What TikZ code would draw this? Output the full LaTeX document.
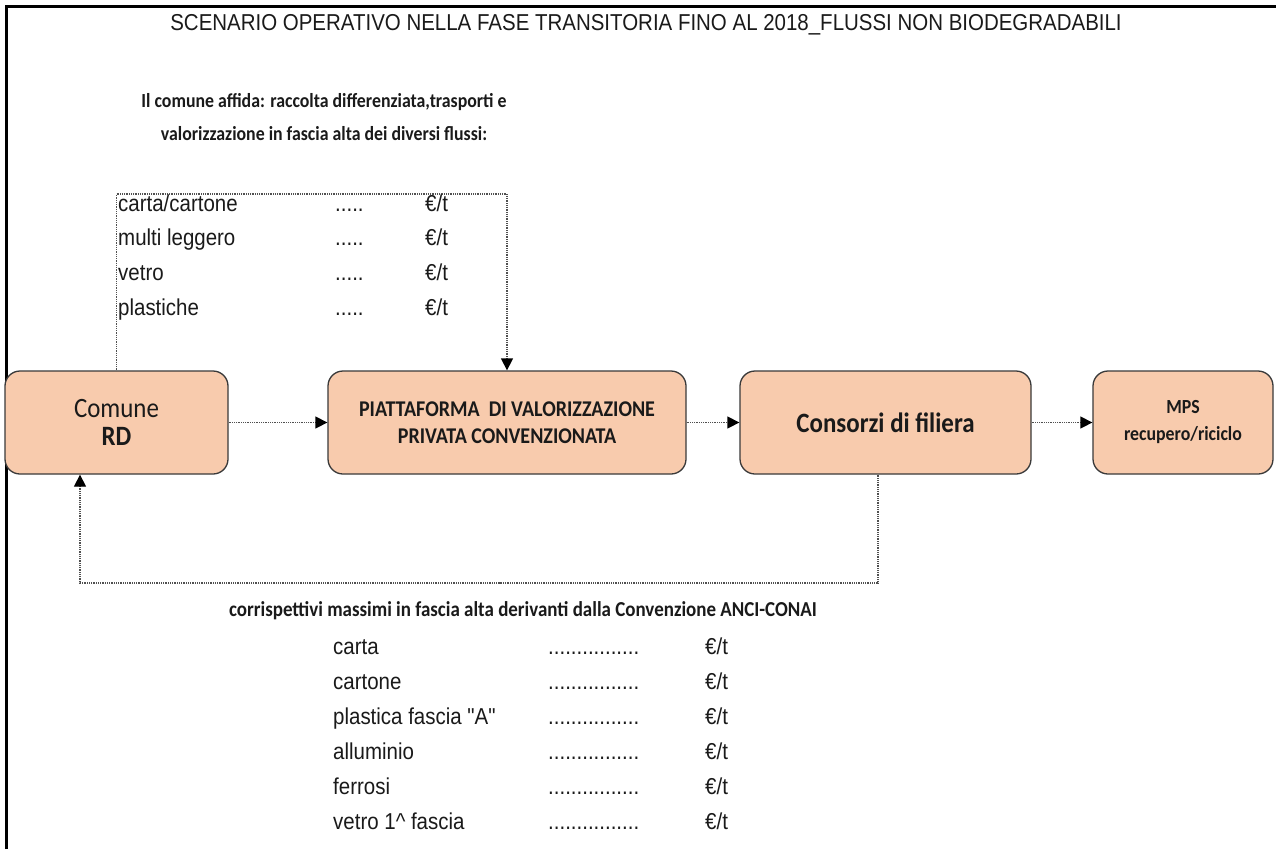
\documentclass[tikz,border=0pt]{standalone}
\usepackage{fontspec}
\usetikzlibrary{arrows.meta}
\newfontfamily\arialn[FakeStretch=0.89]{Liberation Sans}
\newfontfamily\calib[FakeStretch=0.89]{Carlito}
\definecolor{peach}{HTML}{F8CBAD}
\definecolor{edge}{HTML}{3A3A3A}
\definecolor{ink}{HTML}{1A1A1A}
\definecolor{flow}{HTML}{505050}
\tikzset{
  stagebox/.style={draw=edge, line width=1.3pt, fill=peach, rounded corners=15pt,
    minimum height=103pt, align=center, text=ink, inner sep=0pt},
  flowline/.style={draw=flow, line width=1.3pt, dash pattern=on 1pt off 0.8pt},
  flowarrow/.style={flowline, -{Triangle[length=12pt,width=12pt,fill=black,color=black]}},
  itemtxt/.style={font=\arialn\fontsize{23}{23}\selectfont, text=ink, inner sep=0pt},
  headtxt/.style={font=\calib\bfseries\fontsize{20}{33}\selectfont, text=ink, inner sep=0pt, align=center},
}
\begin{document}
\begin{tikzpicture}[x=1pt,y=-1pt]
\useasboundingbox (0,0) rectangle (1276,849);
\fill[white] (0,0) rectangle (1276,849);

% outer frame (top and left edges)
\draw[line width=3pt, black] (6,849) -- (6,6.7) -- (1276,6.7);

% title
\node[font=\arialn\fontsize{23}{23}\selectfont, text=ink, anchor=base, inner sep=0pt] (title) at (646,30)
  {SCENARIO OPERATIVO NELLA FASE TRANSITORIA FINO AL 2018\_FLUSSI NON BIODEGRADABILI};

% heading of the upper list
\node[headtxt, anchor=base] (sub1) at (324,107) {Il comune affida: raccolta differenziata,trasporti e};
\node[headtxt, anchor=base] (sub2) at (324,140) {valorizzazione in fascia alta dei diversi flussi:};

% process stages
\node[stagebox, minimum width=223pt, font=\calib\fontsize{28}{28}\selectfont] (com) at (116.5,422.5)
  {Comune\\\textbf{RD}};
\node[stagebox, minimum width=358pt, font=\calib\bfseries\fontsize{22.5}{27}\selectfont] (piatt) at (507,422.5)
  {PIATTAFORMA\ \ DI VALORIZZAZIONE\\PRIVATA CONVENZIONATA};
\node[stagebox, minimum width=291pt, font=\calib\bfseries\fontsize{28}{28}\selectfont] (cons) at (885.5,422.5)
  {Consorzi di filiera};
\node[stagebox, minimum width=180pt, font=\calib\bfseries\fontsize{20}{27}\selectfont] (mps) at (1183,422.5)
  {MPS\\recupero/riciclo};

% main flow
\draw[flowarrow] (com) -- (piatt);
\draw[flowarrow] (piatt) -- (cons);
\draw[flowarrow] (cons) -- (mps);

% upper loop: Comune -> Piattaforma
\coordinate (ucorner) at (300,194);
\draw[flowarrow] (com.north) |- (ucorner) -| (piatt.north);

% lower loop: Consorzi -> Comune
\coordinate (lcorner) at (500,583);
\draw[flowarrow] ([xshift=-7.5pt]cons.south) |- (lcorner) -| ([xshift=-36.5pt]com.south);

% upper list of fees
\foreach \name/\lbl/\yy in {u1/carta\slash cartone/211, u2/multi leggero/245.5, u3/vetro/280, u4/plastiche/315}{
  \node[itemtxt, anchor=base west] (\name) at (118,\yy) {\lbl};
  \node[itemtxt, anchor=base west] (\name d) at (335,\yy) {.....};
  \node[itemtxt, anchor=base west] (\name e) at (425,\yy) {€/t};
}

% lower heading
\node[headtxt, anchor=base, font=\calib\bfseries\fontsize{21.3}{33}\selectfont] (low) at (523,616)
  {corrispettivi massimi in fascia alta derivanti dalla Convenzione ANCI-CONAI};

% lower list of fees
\foreach \name/\lbl/\yy in {b1/carta/654, b2/cartone/689, b3/plastica fascia "A"/724, b4/alluminio/759, b5/ferrosi/794, b6/vetro 1\^{} fascia/829}{
  \node[itemtxt, anchor=base west] (\name) at (333,\yy) {\lbl};
  \node[itemtxt, anchor=base west] (\name d) at (548,\yy) {................};
  \node[itemtxt, anchor=base west] (\name e) at (705,\yy) {€/t};
}
\end{tikzpicture}
\end{document}
